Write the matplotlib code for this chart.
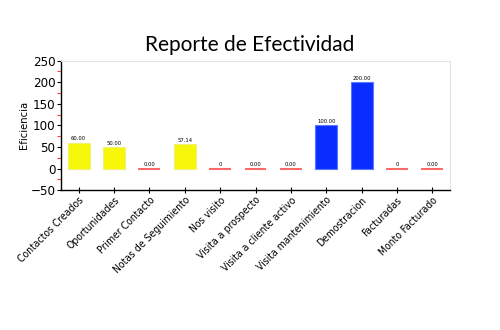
import matplotlib
matplotlib.use("Agg")
import matplotlib.pyplot as plt
from matplotlib.ticker import MultipleLocator

categories = ["Contactos Creados", "Oportunidades", "Primer Contacto",
              "Notas de Seguimiento", "Nos visito", "Visita a prospecto",
              "Visita a cliente activo", "Visita mantenimiento",
              "Demostracion", "Facturadas", "Monto Facturado"]
values = [60.00, 50.00, 0.00, 57.14, 0, 0.00, 0.00, 100.00, 200.00, 0, 0.00]
value_labels = ["60.00", "50.00", "0.00", "57.14", "0", "0.00", "0.00",
                "100.00", "200.00", "0", "0.00"]

plt.rcParams["font.family"] = "DejaVu Sans"
plt.rcParams["font.stretch"] = "condensed"

fig = plt.figure(figsize=(5, 3.3), dpi=100)
ax = fig.add_axes([0.122, 0.424, 0.778, 0.392])

x = list(range(len(categories)))
for xi, v, lab in zip(x, values, value_labels):
    if v == 0:
        ax.plot([xi - 0.31, xi + 0.31], [0, 0], color="#ff6b6b", lw=1.5,
                solid_capstyle="butt", zorder=3)
    else:
        col = "#0a2dff" if v >= 100 else "#f7f70a"
        edge = "#5a78ff" if v >= 100 else "#f0f07a"
        ax.bar(xi, v, width=0.62, color=col, edgecolor=edge, linewidth=0.8,
               zorder=2)
    ax.text(xi, v + 3, lab, ha="center", va="bottom", fontsize=4.2)

ax.set_xlim(-0.5, 10.5)
ax.set_ylim(-50, 250)
ax.yaxis.set_major_locator(MultipleLocator(50))
ax.yaxis.set_minor_locator(MultipleLocator(25))
ax.tick_params(axis="y", which="major", direction="out", length=3,
               width=0.8, labelsize=9.5, pad=1)
ax.tick_params(axis="y", which="minor", direction="out", length=3,
               width=0.8, color="#ff4040")
ax.tick_params(axis="x", direction="inout", length=5, width=0.8, pad=1)
ax.set_xticks(x)
ax.set_xticklabels(categories, rotation=45, ha="right",
                   rotation_mode="anchor", fontsize=7.5)

ax.spines["top"].set_color("#e4e4e4")
ax.spines["right"].set_color("#e4e4e4")
ax.spines["left"].set_linewidth(1)
ax.spines["bottom"].set_linewidth(1)

ax.set_ylabel("Eficiencia", fontsize=8, labelpad=1)
fig.suptitle("Reporte de Efectividad", x=0.5, y=0.895, fontsize=15,
             family="Lato")

fig.savefig("out.png", dpi=100)
